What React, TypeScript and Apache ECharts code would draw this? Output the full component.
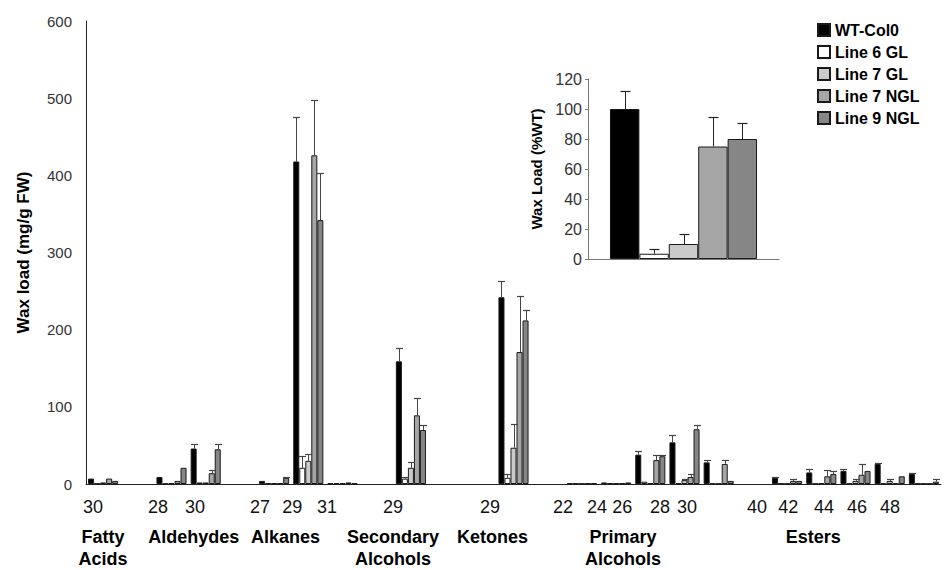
import React, { useEffect, useRef } from 'react';
import * as echarts from 'echarts';

// ---------- data ----------
const categories = [
  'FA30', 'gap1', 'Ald28', 'Ald30', 'gap4', 'Alk27', 'Alk29', 'Alk31', 'gap8', 'SA29',
  'gap10', 'gap11', 'Ket29', 'gap13', 'PA22', 'PA24', 'PA26', 'PA28', 'PA30', 'gap19',
  'Est40', 'Est42', 'Est44', 'Est46', 'Est48',
];
const tickLabels = [
  '30', '', '28', '30', '', '27', '29', '31', '', '29',
  '', '', '29', '', '22', '24', '26', '28', '30', '',
  '40', '42', '44', '46', '48',
];
const classNames = [
  'Fatty\nAcids', '', '', 'Aldehydes', '', 'Alkanes', '', '', '', 'Secondary\nAlcohols',
  '', '', 'Ketones', '', '', 'Primary\nAlcohols', '', '', '', '',
  '', 'Esters', '', '', '',
];
const seriesNames = ['WT-Col0', 'Line 6 GL', 'Line 7 GL', 'Line 7 NGL', 'Line 9 NGL'];

const wtCol0 = [7, null, 9, 46, null, 4, 418, 1, null, 159, null, null, 242, null, 1, 2, 38, 54, 28, null, 8, 15, 17, 26, 13];
const line6GL = [0.5, null, 0.5, 2, null, 1, 21, 1, null, 7, null, null, 8, null, 1, 1, 3, 1, 0.5, null, 0.5, 0.5, 0.5, 0.5, 0.5];
const line7GL = [2, null, 1, 2, null, 1, 30, 1, null, 21, null, null, 47, null, 0.5, 1, 1, 5, 0.5, null, 0.5, 1, 4, 4, 0.5];
const line7NGL = [7, null, 4, 14, null, 1, 426, 2, null, 89, null, null, 171, null, 1, 1, 31, 9, 26, null, 4, 10, 12, 0.5, 0.5];
const line9NGL = [4, null, 21, 45, null, 8, 342, 1, null, 70, null, null, 212, null, 1, 2, 36, 71, 4, null, 4, 13, 17, 10, 3];

const wtCol0Err = [null, null, null, 52, null, null, 475, null, null, 176, null, null, 263, null, null, null, 43, 64, 31, null, 9, 20, 20, 27, 14];
const line6GLErr = [null, null, null, null, null, null, 36, null, null, 9.5, null, null, 13, null, null, null, null, null, null, null, null, null, null, null, null];
const line7GLErr = [null, null, null, null, null, null, 39, null, null, 29, null, null, 78, null, null, null, null, 7, null, null, null, null, 7, 7, null];
const line7NGLErr = [null, null, null, 18, null, null, 497, null, null, 111, null, null, 244, null, null, null, 38, 13, 31, null, 6.5, 18, 26, null, null];
const line9NGLErr = [null, null, null, 52, null, 9.5, 403, null, null, 77, null, null, 226, null, null, null, 37, 76, null, null, null, 17, null, null, 7];

const insetValues = [100, 3.5, 10, 75, 80];
const insetErrors = [112, 6.5, 17, 94.5, 90.5];

// ---------- styles ----------
const colors = ['#000000', '#ffffff', '#cbcbcb', '#a6a6a6', '#868686'];
const tickShift = [10, 0, 13.5, 10.7, 0, 14, 16, 15.5, 0, 18, 0, 0, 23.5, 0, 19, 19, 28, 24.5, 31.7, 0, 30, 33, 31.5, 32.7, 34];
const classShift = [0, 0, 0, 12, 0, -11.5, 0, 0, 0, 18, 0, 0, 21, 0, 0, -7, 0, 0, 0, 0, 0, 8, 0, 0, 0];
const FONT = 'Liberation Sans, Arial, sans-serif';
const MAIN_GAP = 0.12;
const INSET_GAP = 0.23;

function padFor(shift: number) {
  return shift >= 0 ? [0, 2 * shift, 0, 0] : [0, 0, 0, -2 * shift];
}

function makeErrRenderer(gap: number, capHalf: number, color: string) {
  return (params: any, api: any) => {
    const ci = api.value(0);
    const si = api.value(1);
    const v = api.value(2);
    const e = api.value(3);
    const base = api.coord([ci, v]);
    const top = api.coord([ci, e]);
    const band = api.size([1, 0])[0];
    const bw = (band * (1 - gap)) / 5;
    const cx = Math.round(base[0] + (si - 2) * bw) + 0.5;
    const y1 = base[1];
    const y2 = Math.round(top[1]) + 0.5;
    return {
      type: 'group',
      children: [
        { type: 'line', shape: { x1: cx, y1, x2: cx, y2 }, style: { stroke: color, lineWidth: 1 } },
        { type: 'line', shape: { x1: cx - capHalf, y1: y2, x2: cx + capHalf, y2 }, style: { stroke: color, lineWidth: 1.2 } },
      ],
    };
  };
}

export default function App() {
  const ref = useRef<HTMLDivElement>(null);

  useEffect(() => {
    if (!ref.current) return;
    const chart = echarts.init(ref.current, undefined, { renderer: 'svg' });

    const seriesValues = [wtCol0, line6GL, line7GL, line7NGL, line9NGL];
    const seriesErrors = [wtCol0Err, line6GLErr, line7GLErr, line7NGLErr, line9NGLErr];

    const mainErrData: number[][] = [];
    seriesValues.forEach((vals, s) => {
      seriesErrors[s].forEach((e, i) => {
        if (e != null && vals[i] != null) mainErrData.push([i, s, vals[i] as number, e]);
      });
    });
    const insetErrData = insetValues.map((v, s) => [0, s, v, insetErrors[s]]);

    const mainBars = seriesValues.map((vals, s) => ({
      type: 'bar',
      name: seriesNames[s],
      xAxisIndex: 0,
      yAxisIndex: 0,
      data: vals.map((v) => (v == null ? '-' : v)),
      barGap: '0%',
      barCategoryGap: `${MAIN_GAP * 100}%`,
      itemStyle: { color: colors[s], borderColor: '#1a1a1a', borderWidth: 1 },
      z: 2,
    }));

    const insetBars = insetValues.map((v, s) => ({
      type: 'bar',
      name: seriesNames[s],
      xAxisIndex: 2,
      yAxisIndex: 1,
      data: [v],
      barGap: '0%',
      barCategoryGap: `${INSET_GAP * 100}%`,
      itemStyle: { color: colors[s], borderColor: '#1a1a1a', borderWidth: 1 },
      z: 2,
    }));

    const option: any = {
      animation: false,
      backgroundColor: '#ffffff',
      textStyle: { fontFamily: FONT },
      legend: {
        data: seriesNames,
        orient: 'vertical',
        left: 817,
        top: 22,
        padding: 0,
        itemWidth: 12,
        itemHeight: 12,
        itemGap: 6,
        icon: 'rect',
        selectedMode: false,
        textStyle: { fontFamily: FONT, fontSize: 16, fontWeight: 'bold', color: '#000', lineHeight: 16 },
      },
      grid: [
        { left: 86, right: 5, top: 21, bottom: 82 },
        { left: 588, top: 79, width: 191, height: 180 },
      ],
      xAxis: [
        {
          type: 'category',
          gridIndex: 0,
          position: 'bottom',
          data: categories.map((c, i) => ({ value: c, textStyle: { padding: padFor(tickShift[i]) } })),
          axisLine: { lineStyle: { color: '#222', width: 1 } },
          axisTick: { show: false },
          axisLabel: {
            interval: 0,
            margin: 14,
            fontSize: 18,
            color: '#111',
            fontFamily: FONT,
            formatter: (_v: string, i: number) => tickLabels[i],
          },
          splitLine: { show: false },
        },
        {
          type: 'category',
          gridIndex: 0,
          position: 'bottom',
          data: categories.map((c, i) => ({ value: c, textStyle: { padding: padFor(classShift[i]) } })),
          axisLine: { show: false },
          axisTick: { show: false },
          axisLabel: {
            interval: 0,
            margin: 42,
            fontSize: 18,
            fontWeight: 'bold',
            lineHeight: 22,
            color: '#000',
            fontFamily: FONT,
            formatter: (_v: string, i: number) => classNames[i],
          },
          splitLine: { show: false },
        },
        {
          type: 'category',
          gridIndex: 1,
          data: ['Wax'],
          axisLine: { lineStyle: { color: '#777', width: 1 } },
          axisTick: { show: false },
          axisLabel: { show: false },
        },
      ],
      yAxis: [
        {
          type: 'value',
          gridIndex: 0,
          min: 0,
          max: 600,
          interval: 100,
          name: 'Wax load (mg/g FW)',
          nameLocation: 'middle',
          nameGap: 54,
          nameTextStyle: { fontFamily: FONT, fontSize: 17, fontWeight: 'bold', color: '#000' },
          axisLine: { show: true, lineStyle: { color: '#222', width: 1 } },
          axisTick: { show: false },
          axisLabel: { fontSize: 15, color: '#333', margin: 14, fontFamily: FONT },
          splitLine: { show: false },
        },
        {
          type: 'value',
          gridIndex: 1,
          min: 0,
          max: 120,
          interval: 20,
          name: 'Wax Load (%WT)',
          nameLocation: 'middle',
          nameGap: 44,
          nameTextStyle: { fontFamily: FONT, fontSize: 15, fontWeight: 'bold', color: '#000' },
          axisLine: { show: true, lineStyle: { color: '#777', width: 1 } },
          axisTick: { show: true, length: 3, lineStyle: { color: '#777' } },
          axisLabel: { fontSize: 16, color: '#333', margin: 6, fontFamily: FONT },
          splitLine: { show: false },
        },
      ],
      series: [
        ...mainBars,
        ...insetBars,
        {
          type: 'custom',
          xAxisIndex: 0,
          yAxisIndex: 0,
          silent: true,
          z: 5,
          encode: { x: 0, y: 3 },
          data: mainErrData,
          renderItem: makeErrRenderer(MAIN_GAP, 3.5, '#444'),
        },
        {
          type: 'custom',
          xAxisIndex: 2,
          yAxisIndex: 1,
          silent: true,
          z: 5,
          encode: { x: 0, y: 3 },
          data: insetErrData,
          renderItem: makeErrRenderer(INSET_GAP, 5, '#222'),
        },
      ],
    };

    chart.setOption(option);
    return () => chart.dispose();
  }, []);

  return (
    <div
      ref={ref}
      style={{ position: 'fixed', left: 0, top: 0, width: 946, height: 570, background: '#fff' }}
    />
  );
}
